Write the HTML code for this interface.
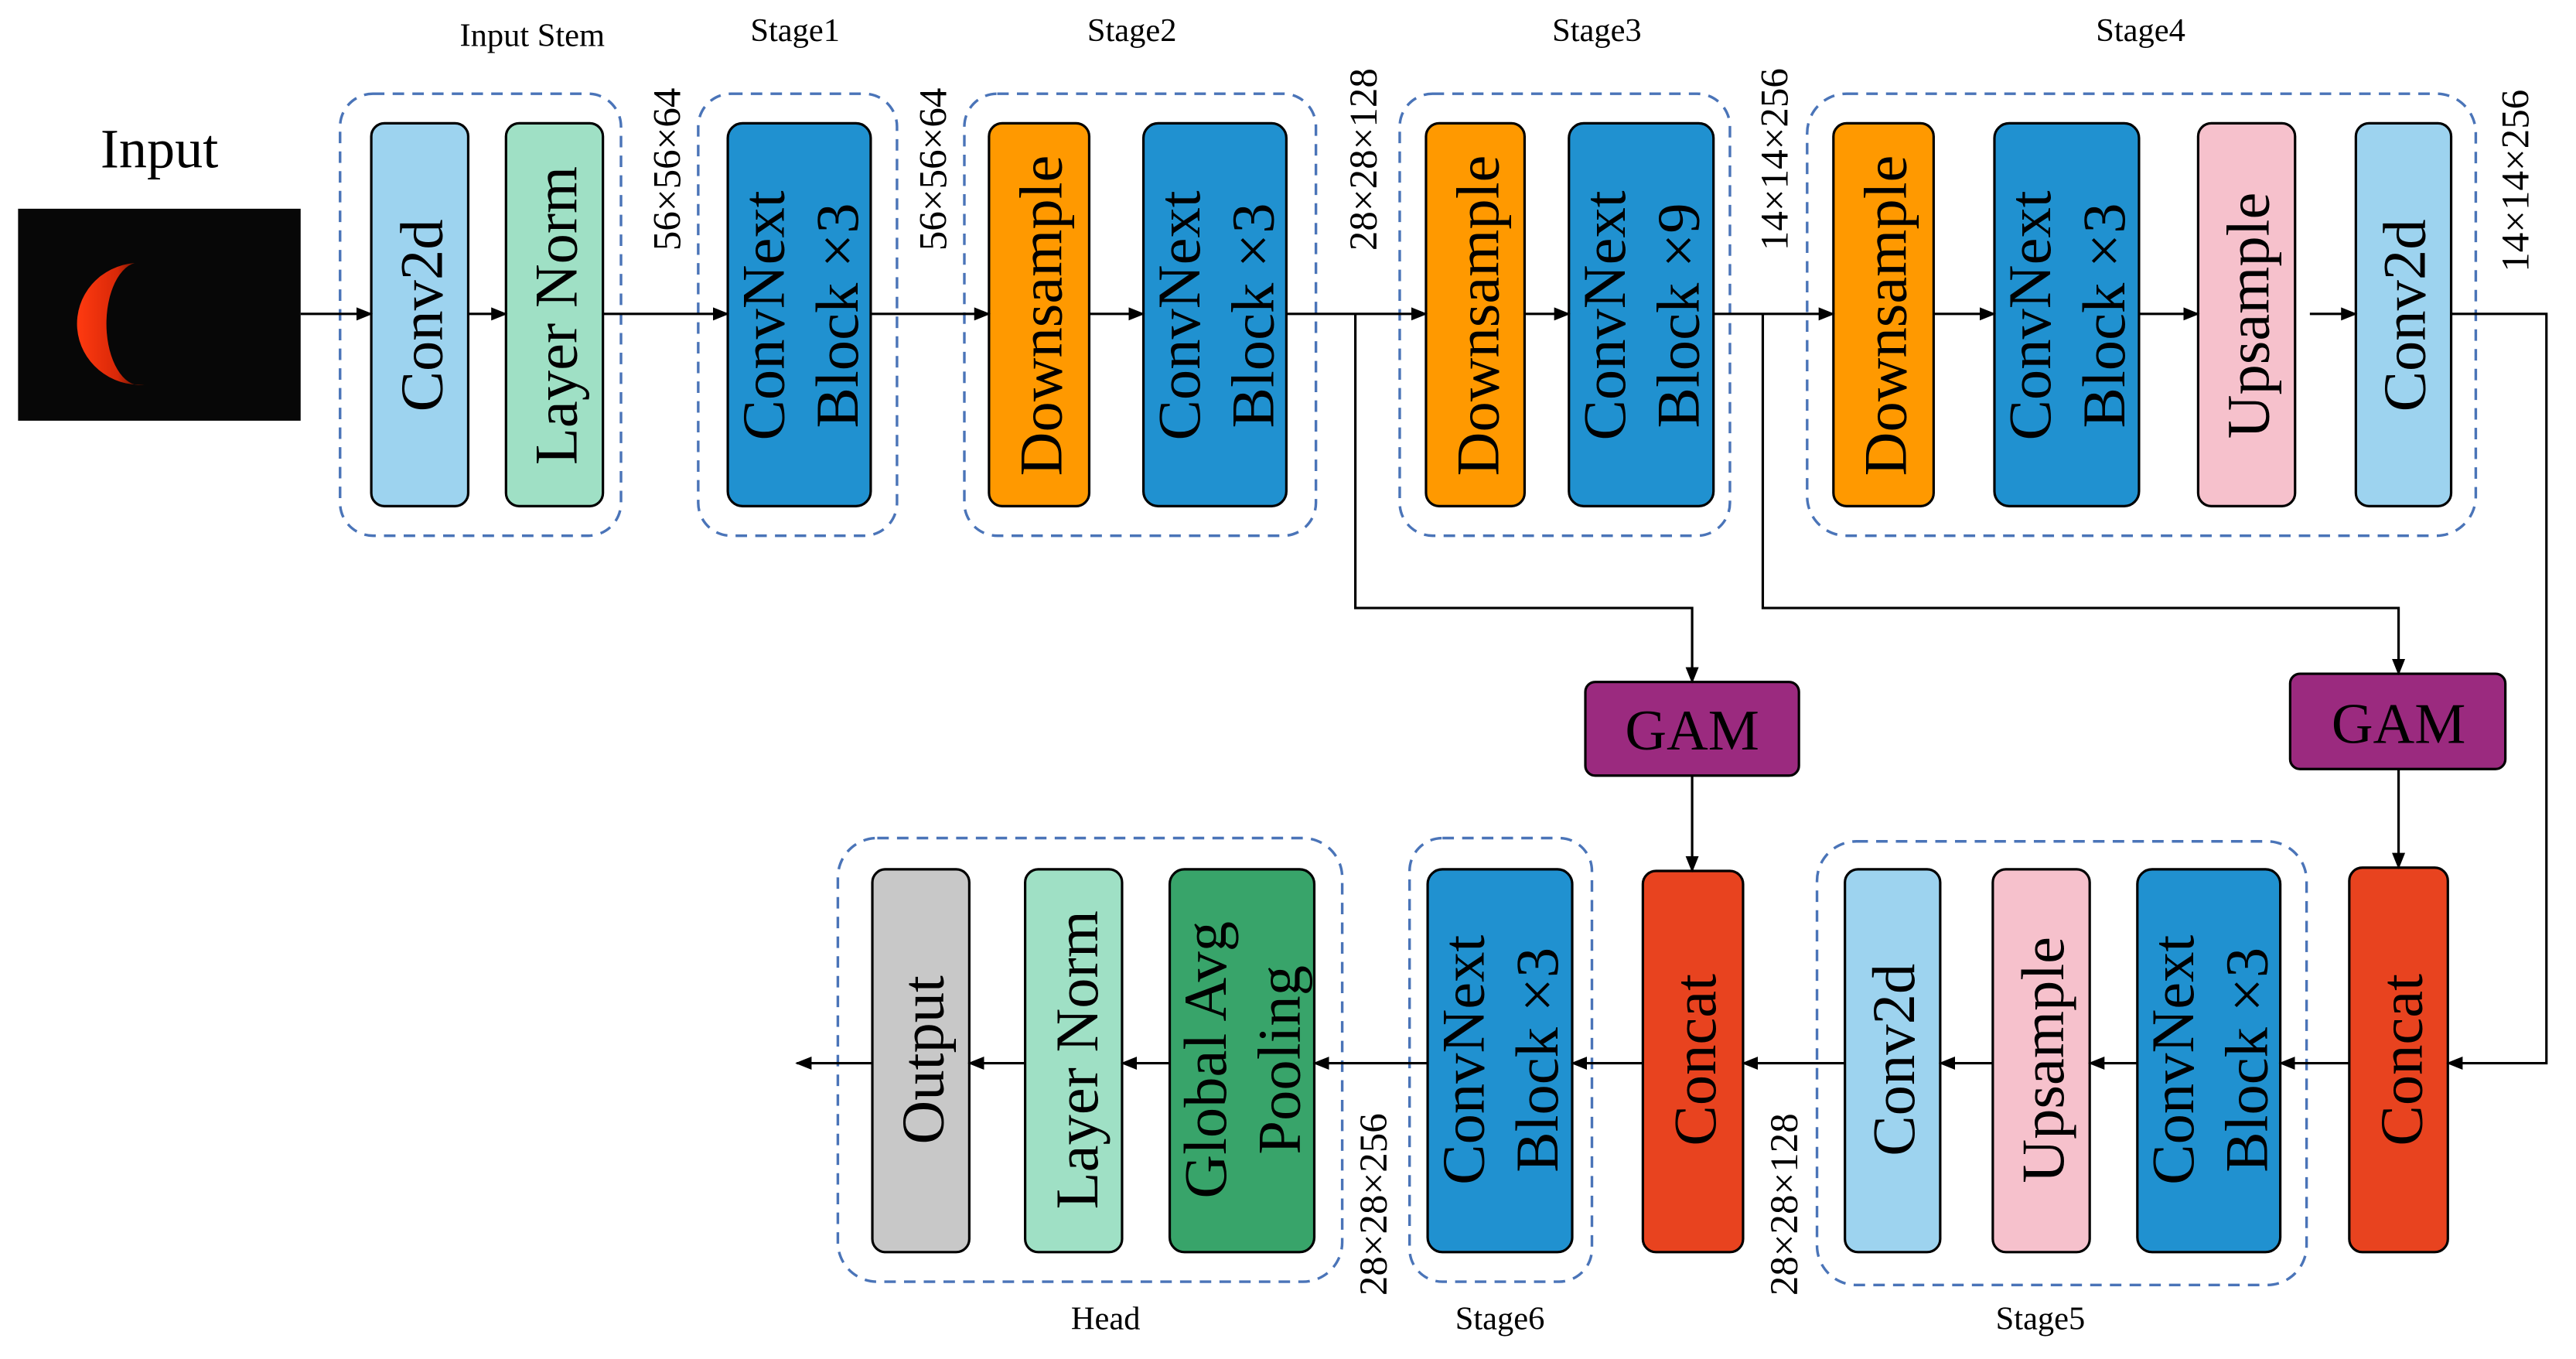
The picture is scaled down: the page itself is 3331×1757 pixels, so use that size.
<!DOCTYPE html>
<html><head><meta charset="utf-8"><style>
html,body{margin:0;padding:0;background:#fff}
svg{display:block}
text{font-family:"Liberation Serif",serif;fill:#000}
</style></head><body>
<svg width="3331" height="1757" viewBox="0 0 1568 827" xmlns="http://www.w3.org/2000/svg">
<defs>
<marker id="a" markerWidth="10" markerHeight="10" refX="9" refY="5" orient="auto" markerUnits="userSpaceOnUse"><path d="M0,1 L10,5 L0,9 z" fill="#000"/></marker>
<linearGradient id="moon" x1="0" y1="0" x2="1" y2="0"><stop offset="0" stop-color="#ff3a10"/><stop offset="0.6" stop-color="#d82808"/><stop offset="1" stop-color="#3a0c00"/></linearGradient>
</defs>
<!-- input -->
<text x="97" y="102" font-size="34" text-anchor="middle">Input</text>
<rect x="11" y="127" width="172" height="129" fill="#070707"/>
<path d="M82,160 A38,37 0 0 0 88,234 A20,37 0 0 1 82,160 z" fill="url(#moon)"/>
<!-- dashed groups -->
<g fill="none" stroke="#4a74b8" stroke-width="1.6" stroke-dasharray="7,5">
<rect x="207" y="57" width="171" height="269" rx="20"/>
<rect x="425" y="57" width="121" height="269" rx="20"/>
<rect x="587" y="57" width="214" height="269" rx="20"/>
<rect x="852" y="57" width="201" height="269" rx="20"/>
<rect x="1100" y="57" width="407" height="269" rx="24"/>
<rect x="1106" y="512" width="298" height="270" rx="24"/>
<rect x="858" y="510" width="111" height="270" rx="20"/>
<rect x="510" y="510" width="307" height="270" rx="24"/>
</g>
<g font-size="20" text-anchor="middle">
<text x="324" y="28">Input Stem</text>
<text x="484" y="25">Stage1</text>
<text x="689" y="25">Stage2</text>
<text x="972" y="25">Stage3</text>
<text x="1303" y="25">Stage4</text>
<text x="1242" y="809">Stage5</text>
<text x="913" y="809">Stage6</text>
<text x="673" y="809">Head</text>
</g>
<!-- blocks -->
<g stroke="#000" stroke-width="1.5">
<rect x="226" y="75" width="59" height="233" rx="8" fill="#9dd3ef"/>
<rect x="308" y="75" width="59" height="233" rx="8" fill="#9fe0c5"/>
<rect x="443" y="75" width="87" height="233" rx="9" fill="#2091d0"/>
<rect x="602" y="75" width="61" height="233" rx="8" fill="#ff9900"/>
<rect x="696" y="75" width="87" height="233" rx="9" fill="#2091d0"/>
<rect x="868" y="75" width="60" height="233" rx="8" fill="#ff9900"/>
<rect x="955" y="75" width="88" height="233" rx="9" fill="#2091d0"/>
<rect x="1116" y="75" width="61" height="233" rx="8" fill="#ff9900"/>
<rect x="1214" y="75" width="88" height="233" rx="9" fill="#2091d0"/>
<rect x="1338" y="75" width="59" height="233" rx="8" fill="#f6c1cc"/>
<rect x="1434" y="75" width="58" height="233" rx="8" fill="#9dd3ef"/>
<rect x="965" y="415" width="130" height="57" rx="6" fill="#9b2a7f"/>
<rect x="1394" y="410" width="131" height="58" rx="6" fill="#9b2a7f"/>
<rect x="1430" y="528" width="60" height="234" rx="8" fill="#e8431f"/>
<rect x="1301" y="529" width="87" height="233" rx="9" fill="#2091d0"/>
<rect x="1213" y="529" width="59" height="233" rx="8" fill="#f6c1cc"/>
<rect x="1123" y="529" width="58" height="233" rx="8" fill="#9dd3ef"/>
<rect x="1000" y="530" width="61" height="232" rx="8" fill="#e8431f"/>
<rect x="869" y="529" width="88" height="233" rx="9" fill="#2091d0"/>
<rect x="712" y="529" width="88" height="233" rx="9" fill="#38a46a"/>
<rect x="624" y="529" width="59" height="233" rx="8" fill="#9fe0c5"/>
<rect x="531" y="529" width="59" height="233" rx="8" fill="#c8c8c8"/>
</g>
<g font-size="37" text-anchor="middle">
<text transform="translate(269,192) rotate(-90)">Conv2d</text>
<text transform="translate(351,192) rotate(-90)">Layer Norm</text>
<text transform="translate(477,192) rotate(-90)">ConvNext</text>
<text transform="translate(522,192) rotate(-90)">Block ×3</text>
<text transform="translate(646,192) rotate(-90)">Downsample</text>
<text transform="translate(730,192) rotate(-90)">ConvNext</text>
<text transform="translate(775,192) rotate(-90)">Block ×3</text>
<text transform="translate(912,192) rotate(-90)">Downsample</text>
<text transform="translate(989,192) rotate(-90)">ConvNext</text>
<text transform="translate(1034,192) rotate(-90)">Block ×9</text>
<text transform="translate(1160,192) rotate(-90)">Downsample</text>
<text transform="translate(1248,192) rotate(-90)">ConvNext</text>
<text transform="translate(1293,192) rotate(-90)">Block ×3</text>
<text transform="translate(1381,192) rotate(-90)">Upsample</text>
<text transform="translate(1476,192) rotate(-90)">Conv2d</text>
<text x="1030" y="456" font-size="35">GAM</text>
<text x="1460" y="452" font-size="35">GAM</text>
<text transform="translate(1474,645) rotate(-90)">Concat</text>
<text transform="translate(1335,645) rotate(-90)">ConvNext</text>
<text transform="translate(1380,645) rotate(-90)">Block ×3</text>
<text transform="translate(1256,645) rotate(-90)">Upsample</text>
<text transform="translate(1165,645) rotate(-90)">Conv2d</text>
<text transform="translate(1044,645) rotate(-90)">Concat</text>
<text transform="translate(903,645) rotate(-90)">ConvNext</text>
<text transform="translate(948,645) rotate(-90)">Block ×3</text>
<text transform="translate(746,645) rotate(-90)">Global Avg</text>
<text transform="translate(791,645) rotate(-90)">Pooling</text>
<text transform="translate(668,645) rotate(-90)">Layer Norm</text>
<text transform="translate(574,645) rotate(-90)">Output</text>
</g>
<!-- dimension labels -->
<g font-size="24" text-anchor="middle">
<text transform="translate(414,103) rotate(-90)">56×56×64</text>
<text transform="translate(576,103) rotate(-90)">56×56×64</text>
<text transform="translate(838,97) rotate(-90)">28×28×128</text>
<text transform="translate(1088,97) rotate(-90)">14×14×256</text>
<text transform="translate(1539,110) rotate(-90)">14×14×256</text>
<text transform="translate(1094,733) rotate(-90)">28×28×128</text>
<text transform="translate(844,733) rotate(-90)">28×28×256</text>
</g>
<!-- connectors -->
<g stroke="#000" stroke-width="1.5" fill="none" marker-end="url(#a)">
<line x1="183" y1="191" x2="226" y2="191"/>
<line x1="285" y1="191" x2="308" y2="191"/>
<line x1="367" y1="191" x2="443" y2="191"/>
<line x1="530" y1="191" x2="602" y2="191"/>
<line x1="663" y1="191" x2="696" y2="191"/>
<line x1="783" y1="191" x2="868" y2="191"/>
<line x1="928" y1="191" x2="955" y2="191"/>
<line x1="1043" y1="191" x2="1116" y2="191"/>
<line x1="1177" y1="191" x2="1214" y2="191"/>
<line x1="1302" y1="191" x2="1338" y2="191"/>
<line x1="1406" y1="191" x2="1434" y2="191"/>
<polyline points="1492,191 1550,191 1550,647 1490,647"/>
<polyline points="825,191 825,370 1030,370 1030,415"/>
<polyline points="1073,191 1073,370 1460,370 1460,410"/>
<line x1="1030" y1="472" x2="1030" y2="530"/>
<line x1="1460" y1="468" x2="1460" y2="528"/>
<line x1="1430" y1="647" x2="1388" y2="647"/>
<line x1="1301" y1="647" x2="1272" y2="647"/>
<line x1="1213" y1="647" x2="1181" y2="647"/>
<line x1="1123" y1="647" x2="1061" y2="647"/>
<line x1="1000" y1="647" x2="957" y2="647"/>
<line x1="869" y1="647" x2="800" y2="647"/>
<line x1="712" y1="647" x2="683" y2="647"/>
<line x1="624" y1="647" x2="590" y2="647"/>
<line x1="531" y1="647" x2="485" y2="647"/>
</g>
</svg>
</body></html>
